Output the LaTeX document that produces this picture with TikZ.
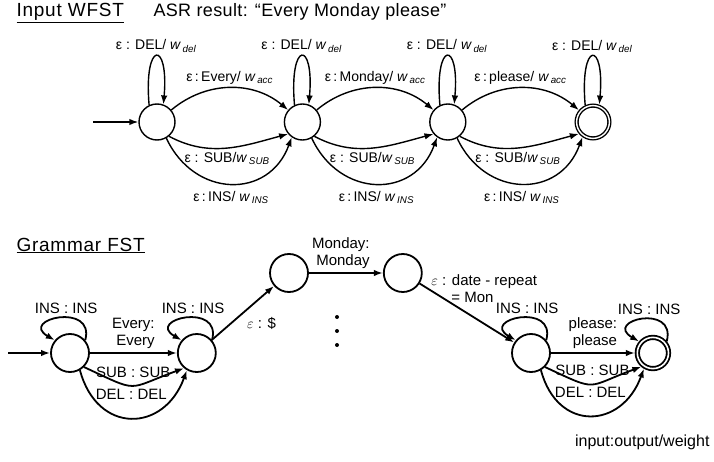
\documentclass[tikz,border=0pt]{standalone}
\usepackage{fontspec}
\setmainfont{Liberation Sans}
\newfontfamily\spaced[LetterSpace=4]{Liberation Sans}
\newfontfamily\tight[LetterSpace=2]{Liberation Sans}
\usepackage{tikz}
\usetikzlibrary{positioning,arrows.meta}
\newcommand{\wt}[1]{\textit{w}\textsubscript{\,\textit{#1}}}

\begin{document}
\begin{tikzpicture}[x=1pt,y=1pt,>={Latex[length=9pt,width=6.5pt]},
  t/.style={draw,circle,minimum size=36pt,inner sep=0pt,line width=1.4pt},
  tf/.style={t,double,double distance=1.4pt,minimum size=32.8pt,outer sep=2.1pt},
  g/.style={draw,circle,minimum size=38pt,inner sep=0pt,line width=1.8pt},
  gf/.style={g,double,double distance=1.6pt,minimum size=31.2pt,outer sep=2.4pt},
  te/.style={->,line width=1.4pt},ge/.style={->,line width=1.8pt},
  tl/.style={font=\fontsize{14}{16}\selectfont},
  gl/.style={font=\fontsize{15}{17}\selectfont},
  ttl/.style={font=\fontsize{19}{21}\spaced,anchor=base west}]
\useasboundingbox (0,0) rectangle (714,461);
\node[ttl] (h1) at (13,444) {\underline{Input WFST}};
\node[ttl,font=\fontsize{18}{21}\tight] (h2) at (150,444) {ASR result: “Every Monday please”};
\node[ttl] (h3) at (13,210) {\underline{Grammar FST}};
\node[font=\fontsize{16}{19}\selectfont,anchor=east] (key) at (713,19) {input:output/weight};
% input WFST
\node[t] (a0) at (157,339) {};
\node[t,right=108pt of a0] (a1) {};
\node[t,right=108pt of a1] (a2) {};
\node[tf,right=108pt of a2] (a3) {};
\coordinate (i0) at (93,339); \draw[te] (i0)--(a0);
\foreach \n in {a0,a1,a2,a3}
  \draw[te] (\n.115) .. controls +(95:65) and +(85:65) .. node[midway,above,tl] {ε : DEL/ \wt{del}} (\n.70);
\draw[te] (a0) to[out=40,in=140] node[midway,above,tl] {ε\,:\,Every/ \wt{acc}} (a1);
\draw[te] (a1) to[out=40,in=140] node[midway,above,tl] {ε\,:\,Monday/ \wt{acc}} (a2);
\draw[te] (a2) to[out=40,in=140] node[midway,above,tl] {ε\,:\,please/ \wt{acc}} (a3);
\foreach \p/\q in {a0/a1,a1/a2,a2/a3}{
  \draw[te] (\p.-50) to[out=-28,in=-165] node[midway,below,tl] {ε : SUB/\wt{SUB}} (\q.-140);
  \draw[te] (\p.-60) to[out=-65,in=-110,looseness=1.35] node[midway,below=4pt,tl] {ε\,:\,INS/ \wt{INS}} (\q.-125);}
% grammar FST
\node[g] (b0) at (70,108) {};
\node[g,right=87pt of b0] (b1) {};
\node[g] (b2) at (289,188) {};
\node[g,right=74pt of b2] (b3) {};
\node[g] (b4) at (531,108) {};
\node[gf,right=84pt of b4] (b5) {};
\coordinate (i1) at (8,108); \draw[ge] (i1)--(b0);
\foreach \n in {b0,b1,b4,b5}
  \draw[ge] (\n.40) .. controls +(75:40) and +(150:42) .. node[midway,above,gl,xshift=6pt] {INS : INS} (\n.140);
\draw[ge] (b0)--node[midway,above,gl,align=right] {Every:\\ Every} (b1);
\draw[ge] (b4)--node[midway,above,gl,align=right] {please:\\ please} (b5);
\foreach \p/\q in {b0/b1,b4/b5}{
  \draw[ge] (\p.-45) to[out=-25,in=-160,looseness=1.6] node[midway,above=4pt,gl] {SUB : SUB} (\q.-130);
  \draw[ge] (\p.-60) to[out=-75,in=-110,looseness=1.6] node[midway,above=14pt,gl] {DEL : DEL} (\q.-120);}
\draw[ge] (b1)--node[midway,below right,gl] {$\varepsilon$ : \$} (b2);
\draw[ge] (b2)--node[midway,above,gl,align=right,xshift=-5pt] {Monday:\\ Monday} (b3);
\draw[ge] (b3)--node[pos=0.08,anchor=west,gl,align=left] {$\varepsilon$ : date - repeat\\\hspace*{20pt}= Mon} (b4);
\foreach \y in {116,130,144} \fill (337,\y) circle (2pt);
\end{tikzpicture}
\end{document}
